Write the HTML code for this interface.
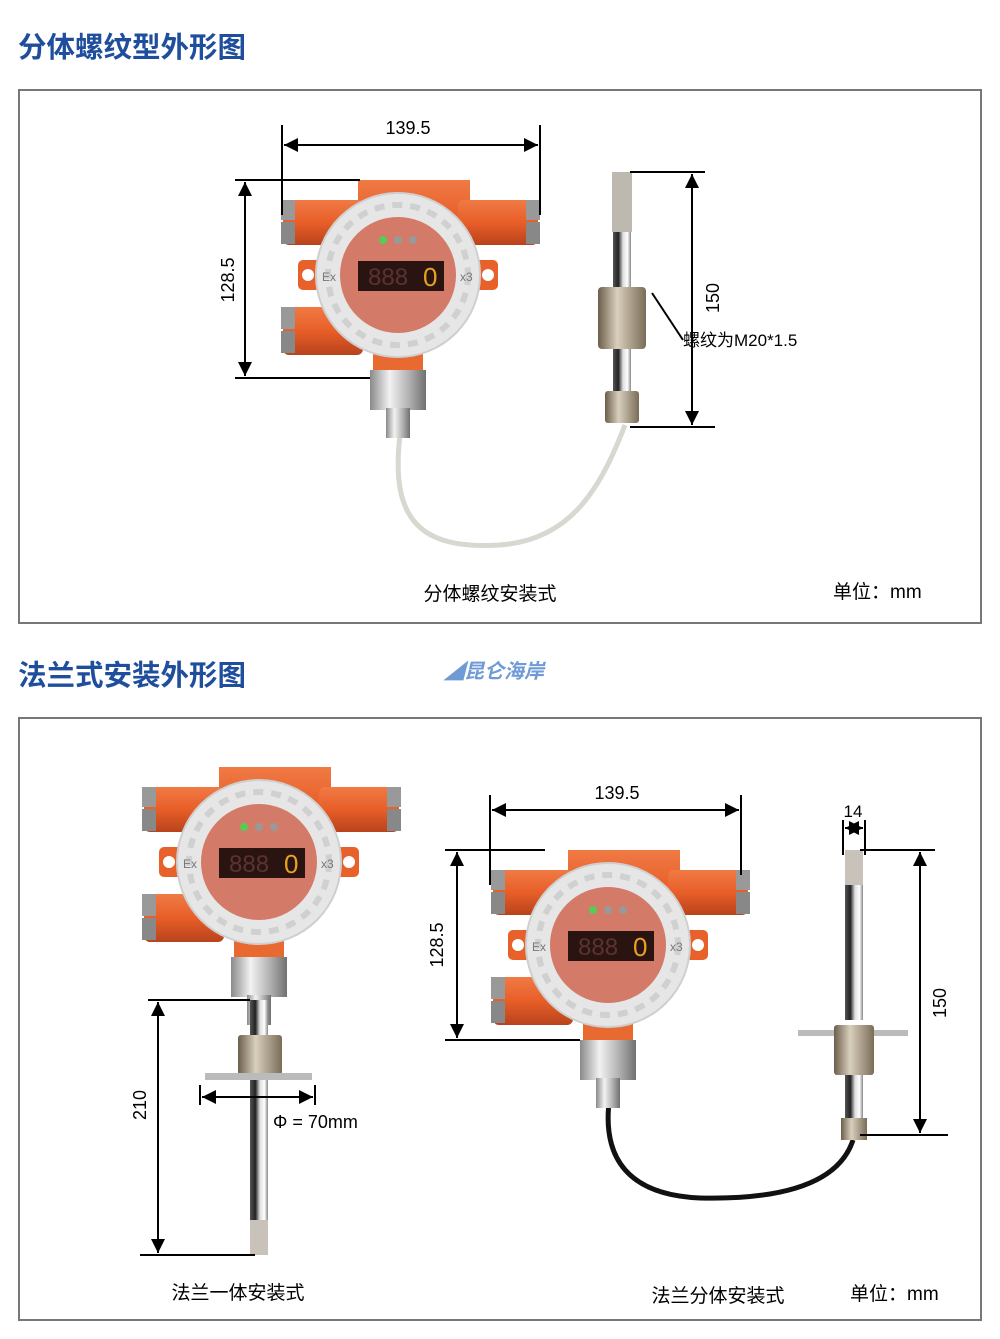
<!DOCTYPE html>
<html><head><meta charset="utf-8"><style>
body{margin:0;background:#fff;width:1000px;height:1339px;overflow:hidden;font-family:"Liberation Sans","Noto Sans CJK SC",sans-serif}
svg{display:block}
</style></head><body>
<svg width="1000" height="1339" viewBox="0 0 1000 1339" xmlns="http://www.w3.org/2000/svg" font-family="Liberation Sans, Noto Sans CJK SC, sans-serif">
<defs>
<linearGradient id="og" x1="0" y1="0" x2="0" y2="1"><stop offset="0" stop-color="#f07a45"/><stop offset="0.5" stop-color="#e85e28"/><stop offset="1" stop-color="#b8431c"/></linearGradient>
<linearGradient id="sv" x1="0" y1="0" x2="1" y2="0"><stop offset="0" stop-color="#8a8a8a"/><stop offset="0.35" stop-color="#f2f2f2"/><stop offset="0.7" stop-color="#b0b0b0"/><stop offset="1" stop-color="#707070"/></linearGradient>
<linearGradient id="rod" x1="0" y1="0" x2="1" y2="0"><stop offset="0" stop-color="#555"/><stop offset="0.3" stop-color="#222"/><stop offset="0.55" stop-color="#ddd"/><stop offset="0.8" stop-color="#fff"/><stop offset="1" stop-color="#888"/></linearGradient>
<linearGradient id="gl" x1="0" y1="0" x2="1" y2="0"><stop offset="0" stop-color="#6b5e4a"/><stop offset="0.4" stop-color="#d9cfbd"/><stop offset="1" stop-color="#7a6d58"/></linearGradient>
<marker id="ar" viewBox="0 0 10 10" refX="10" refY="5" markerWidth="9" markerHeight="7" orient="auto-start-reverse"><path d="M0,0L10,5L0,10z" fill="#000"/></marker>
<g id="dev">
 <rect x="-40" y="-95" width="112" height="80" fill="url(#og)"/>
 <rect x="-115" y="-75" width="80" height="45" rx="6" fill="url(#og)"/>
 <rect x="-117" y="-75" width="14" height="20" fill="#999"/><rect x="-117" y="-53" width="14" height="22" fill="#888"/>
 <rect x="-115" y="32" width="80" height="48" rx="6" fill="url(#og)"/>
 <rect x="-117" y="32" width="14" height="22" fill="#999"/><rect x="-117" y="56" width="14" height="22" fill="#888"/>
 <rect x="60" y="-75" width="80" height="45" rx="6" fill="url(#og)"/>
 <rect x="128" y="-75" width="14" height="20" fill="#999"/><rect x="128" y="-53" width="14" height="22" fill="#888"/>
 <rect x="-100" y="-15" width="30" height="30" rx="5" fill="#e8602a"/><circle cx="-90" cy="0" r="6" fill="#fff"/>
 <rect x="70" y="-15" width="30" height="30" rx="5" fill="#e8602a"/><circle cx="90" cy="0" r="6" fill="#fff"/>
 <rect x="-25" y="75" width="50" height="22" fill="#e86a30"/>
 <rect x="-28" y="95" width="56" height="40" fill="url(#sv)"/>
 <rect x="-12" y="133" width="24" height="30" fill="url(#sv)"/>
 <circle r="82" fill="#e6e6e6" stroke="#cfcfcf" stroke-width="2"/>
 <circle r="70" fill="none" stroke="#d0d0d0" stroke-width="6" stroke-dasharray="10 8"/>
 <circle r="58" fill="#d47a68"/>
 <rect x="-40" y="-14" width="86" height="30" fill="#2a1412"/>
 <text x="-30" y="10" font-size="24" fill="#5a3330">888</text><text x="25" y="11" font-size="26" fill="#e8a020">0</text>
 <circle cx="-15" cy="-35" r="4" fill="#5c5"/><circle cx="0" cy="-35" r="4" fill="#999"/><circle cx="15" cy="-35" r="4" fill="#999"/>
 <text x="-76" y="6" font-size="12" fill="#777">Ex</text><text x="62" y="6" font-size="12" fill="#777">x3</text>
</g>
</defs>
<!-- headings -->
<text x="18" y="57" font-size="28.5" font-weight="bold" fill="#1f4e9c">分体螺纹型外形图</text>
<text x="18" y="685" font-size="28.5" font-weight="bold" fill="#1f4e9c">法兰式安装外形图</text>
<text x="444" y="678" font-size="20" font-weight="bold" fill="#6f9ad6" font-style="italic">◢昆仑海岸</text>
<rect x="19" y="90" width="962" height="533" fill="none" stroke="#777" stroke-width="2"/>
<rect x="19" y="718" width="962" height="602" fill="none" stroke="#777" stroke-width="2"/>

<!-- panel 1 -->
<path d="M400,435 C390,520 420,550 500,545 C570,540 600,490 625,425" fill="none" stroke="#d8d8d0" stroke-width="5"/>
<use href="#dev" x="398" y="275"/>
<rect x="612" y="172" width="20" height="60" fill="#bdb8b0"/>
<rect x="613" y="232" width="18" height="55" fill="url(#rod)"/>
<rect x="598" y="287" width="48" height="62" rx="4" fill="url(#gl)"/>
<rect x="613" y="349" width="18" height="42" fill="url(#rod)"/>
<rect x="605" y="391" width="34" height="32" rx="3" fill="url(#gl)"/>
<g stroke="#000" stroke-width="2" fill="none">
<line x1="282" y1="125" x2="282" y2="215"/><line x1="540" y1="125" x2="540" y2="215"/>
<line x1="284" y1="145" x2="538" y2="145" marker-start="url(#ar)" marker-end="url(#ar)"/>
<line x1="235" y1="180" x2="360" y2="180"/><line x1="235" y1="378" x2="370" y2="378"/>
<line x1="245" y1="182" x2="245" y2="376" marker-start="url(#ar)" marker-end="url(#ar)"/>
<line x1="630" y1="172" x2="705" y2="172"/><line x1="630" y1="427" x2="715" y2="427"/>
<line x1="692" y1="174" x2="692" y2="425" marker-start="url(#ar)" marker-end="url(#ar)"/>
<line x1="652" y1="293" x2="683" y2="340"/>
</g>
<text x="408" y="134" font-size="18" text-anchor="middle">139.5</text>
<text transform="translate(234,280) rotate(-90)" font-size="18" text-anchor="middle">128.5</text>
<text transform="translate(719,298) rotate(-90)" font-size="18" text-anchor="middle">150</text>
<text x="683" y="346" font-size="17">螺纹为M20*1.5</text>
<text x="490" y="600" font-size="19" text-anchor="middle">分体螺纹安装式</text>
<text x="833" y="598" font-size="19">单位：mm</text>

<!-- panel 2 left -->
<use href="#dev" x="259" y="862"/>
<rect x="250" y="1000" width="18" height="40" fill="url(#rod)"/>
<rect x="238" y="1035" width="44" height="40" rx="3" fill="url(#gl)"/>
<rect x="205" y="1073" width="107" height="7" fill="#bbb"/>
<rect x="250" y="1080" width="18" height="140" fill="url(#rod)"/>
<rect x="250" y="1220" width="18" height="35" fill="#c8c2ba"/>
<g stroke="#000" stroke-width="2" fill="none">
<line x1="148" y1="1000" x2="250" y2="1000"/><line x1="140" y1="1255" x2="255" y2="1255"/>
<line x1="158" y1="1002" x2="158" y2="1253" marker-start="url(#ar)" marker-end="url(#ar)"/>
<line x1="200" y1="1085" x2="200" y2="1105"/><line x1="315" y1="1085" x2="315" y2="1105"/>
<line x1="202" y1="1097" x2="313" y2="1097" marker-start="url(#ar)" marker-end="url(#ar)"/>
</g>
<text transform="translate(146,1105) rotate(-90)" font-size="18" text-anchor="middle">210</text>
<text x="273" y="1128" font-size="18">Φ = 70mm</text>
<text x="238" y="1299" font-size="19" text-anchor="middle">法兰一体安装式</text>

<!-- panel 2 right -->
<path d="M610,1095 C600,1160 630,1195 700,1198 C790,1200 840,1180 853,1140" fill="none" stroke="#111" stroke-width="5"/>
<use href="#dev" x="608" y="945"/>
<rect x="845" y="850" width="18" height="35" fill="#c8c2ba"/>
<rect x="845" y="885" width="18" height="135" fill="url(#rod)"/>
<rect x="798" y="1030" width="110" height="6" fill="#bbb"/>
<rect x="834" y="1025" width="40" height="50" rx="3" fill="url(#gl)"/>
<rect x="845" y="1075" width="18" height="45" fill="url(#rod)"/>
<rect x="841" y="1118" width="26" height="22" fill="url(#gl)"/>
<g stroke="#000" stroke-width="2" fill="none">
<line x1="490" y1="795" x2="490" y2="885"/><line x1="741" y1="795" x2="741" y2="875"/>
<line x1="492" y1="810" x2="739" y2="810" marker-start="url(#ar)" marker-end="url(#ar)"/>
<line x1="445" y1="850" x2="545" y2="850"/><line x1="445" y1="1040" x2="580" y2="1040"/>
<line x1="457" y1="852" x2="457" y2="1038" marker-start="url(#ar)" marker-end="url(#ar)"/>
<line x1="843" y1="820" x2="843" y2="855"/><line x1="865" y1="820" x2="865" y2="855"/>
<line x1="845" y1="828" x2="863" y2="828" marker-start="url(#ar)" marker-end="url(#ar)"/>
<line x1="860" y1="850" x2="935" y2="850"/><line x1="860" y1="1135" x2="948" y2="1135"/>
<line x1="920" y1="852" x2="920" y2="1133" marker-start="url(#ar)" marker-end="url(#ar)"/>
</g>
<text x="617" y="799" font-size="18" text-anchor="middle">139.5</text>
<text transform="translate(443,945) rotate(-90)" font-size="18" text-anchor="middle">128.5</text>
<text x="853" y="817" font-size="17" text-anchor="middle">14</text>
<text transform="translate(946,1003) rotate(-90)" font-size="18" text-anchor="middle">150</text>
<text x="718" y="1302" font-size="19" text-anchor="middle">法兰分体安装式</text>
<text x="850" y="1300" font-size="19">单位：mm</text>
</svg>
</body></html>
